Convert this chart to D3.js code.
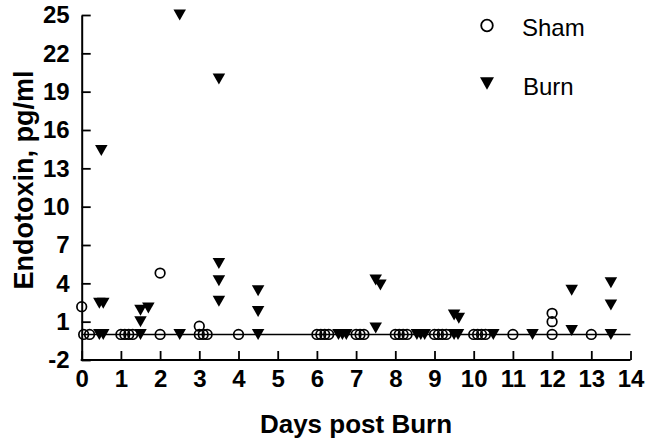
<!DOCTYPE html>
<html><head><meta charset="utf-8">
<script src="https://cdn.jsdelivr.net/npm/d3@7"></script>
<style>
html,body{margin:0;padding:0;background:#fff;}
text{font-family:Arial,"Liberation Sans",sans-serif;fill:#000;}
</style></head>
<body>
<svg id="chart" width="657" height="443"></svg>
<script>
// ---- data ----
const shamDays   = [0, 0.05, 0.2, 1.0, 1.1, 1.2, 1.3, 2, 2, 3.0, 3.0, 3.1, 3.2, 4, 6.0, 6.1, 6.2, 6.3, 7.0, 7.1, 7.2, 8.0, 8.1, 8.2, 8.3, 9.0, 9.1, 9.2, 9.3, 10.0, 10.1, 10.2, 10.3, 11, 12, 12, 12, 13];
const shamValues = [2.17, 0, 0, 0, 0, 0, 0, 0, 4.8, 0.65, 0, 0, 0, 0, 0, 0, 0, 0, 0, 0, 0, 0, 0, 0, 0, 0, 0, 0, 0, 0, 0, 0, 0, 0, 0, 1.0, 1.65, 0];
const burnDays   = [0.5, 0.45, 0.55, 0.45, 0.55, 1.5, 1.7, 1.5, 1.5, 2.5, 2.5, 3.5, 3.5, 3.5, 3.5, 4.5, 4.5, 4.5, 6.55, 6.65, 6.75, 7.5, 7.62, 7.5, 8.55, 8.65, 8.75, 9.5, 9.62, 9.5, 9.6, 10.5, 11.5, 12.5, 12.5, 13.5, 13.5, 13.5];
const burnValues = [14.4, 2.45, 2.45, 0, 0, 1.9, 2.07, 1.0, 0, 25, 0, 20, 5.55, 4.2, 2.6, 3.42, 1.8, 0, 0, 0, 0, 4.26, 3.87, 0.5, 0, 0, 0, 1.52, 1.27, 0, 0, 0, 0, 3.45, 0.3, 4.05, 2.3, 0];
const xTicks = [0,1,2,3,4,5,6,7,8,9,10,11,12,13,14];
const yTicks = [-2,1,4,7,10,13,16,19,22,25];
const legendLabels = ["Sham", "Burn"];
const xTitle = "Days post Burn";
const yTitle = "Endotoxin, pg/ml";

// ---- layout ----
const svg = d3.select("#chart");
const x = d3.scaleLinear().domain([0,14]).range([81.7,630.5]);
const y = d3.scaleLinear().domain([-2,25]).range([360,15]);

const tri = (w,h) => `M${-w/2},${-h/2}L${w/2},${-h/2}L0,${h/2}Z`;

// axes
const xAxis = d3.axisBottom(x).tickValues(xTicks).tickSizeInner(-9).tickSizeOuter(0).tickPadding(10).tickFormat(d=>String(d));
const yAxis = d3.axisLeft(y).tickValues(yTicks).tickSizeInner(-9).tickSizeOuter(0).tickPadding(12).tickFormat(d=>String(d));

const gx = svg.append("g").attr("transform","translate(0,360)").call(xAxis);
const gy = svg.append("g").attr("transform","translate(81.7,0)").call(yAxis);
[gx,gy].forEach(g=>{
  g.select(".domain").attr("stroke","#000").attr("stroke-width",2);
  g.selectAll(".tick line").attr("stroke","#000").attr("stroke-width",1.8);
  g.selectAll(".tick text").attr("font-family","Arial, 'Liberation Sans', sans-serif")
    .attr("font-weight","bold").attr("font-size",24).attr("fill","#000");
});
gx.select(".domain").attr("d",`M${x(0)-1},0H${x(14)}`);

// zero line
svg.append("line").attr("x1",x(0)).attr("x2",x(14)).attr("y1",y(0)).attr("y2",y(0))
  .attr("stroke","#000").attr("stroke-width",1.6);

// sham circles
svg.append("g").selectAll("circle").data(shamDays.map((d,i)=>[d,shamValues[i]])).join("circle")
  .attr("cx",d=>x(d[0])).attr("cy",d=>y(d[1])).attr("r",4.8)
  .attr("fill","none").attr("stroke","#000").attr("stroke-width",1.7);

// burn triangles
svg.append("g").selectAll("path").data(burnDays.map((d,i)=>[d,burnValues[i]])).join("path")
  .attr("d",tri(12.5,11)).attr("transform",d=>`translate(${x(d[0])},${y(d[1])})`)
  .attr("fill","#000");

// legend
svg.append("circle").attr("cx",487).attr("cy",25.5).attr("r",5.8)
  .attr("fill","none").attr("stroke","#000").attr("stroke-width",1.8);
svg.append("path").attr("d",tri(14,12.5)).attr("transform","translate(487,83.5)").attr("fill","#000");
svg.append("text").attr("x",522).attr("y",36).attr("font-size",24).text(legendLabels[0]);
svg.append("text").attr("x",523).attr("y",95).attr("font-size",24).text(legendLabels[1]);

// titles
svg.append("text").attr("x",356).attr("y",433).attr("text-anchor","middle")
  .attr("font-weight","bold").attr("font-size",26).text(xTitle);
svg.append("text").attr("transform","translate(33,180) rotate(-90)").attr("text-anchor","middle")
  .attr("font-weight","bold").attr("font-size",27).text(yTitle);
</script>
</body></html>
